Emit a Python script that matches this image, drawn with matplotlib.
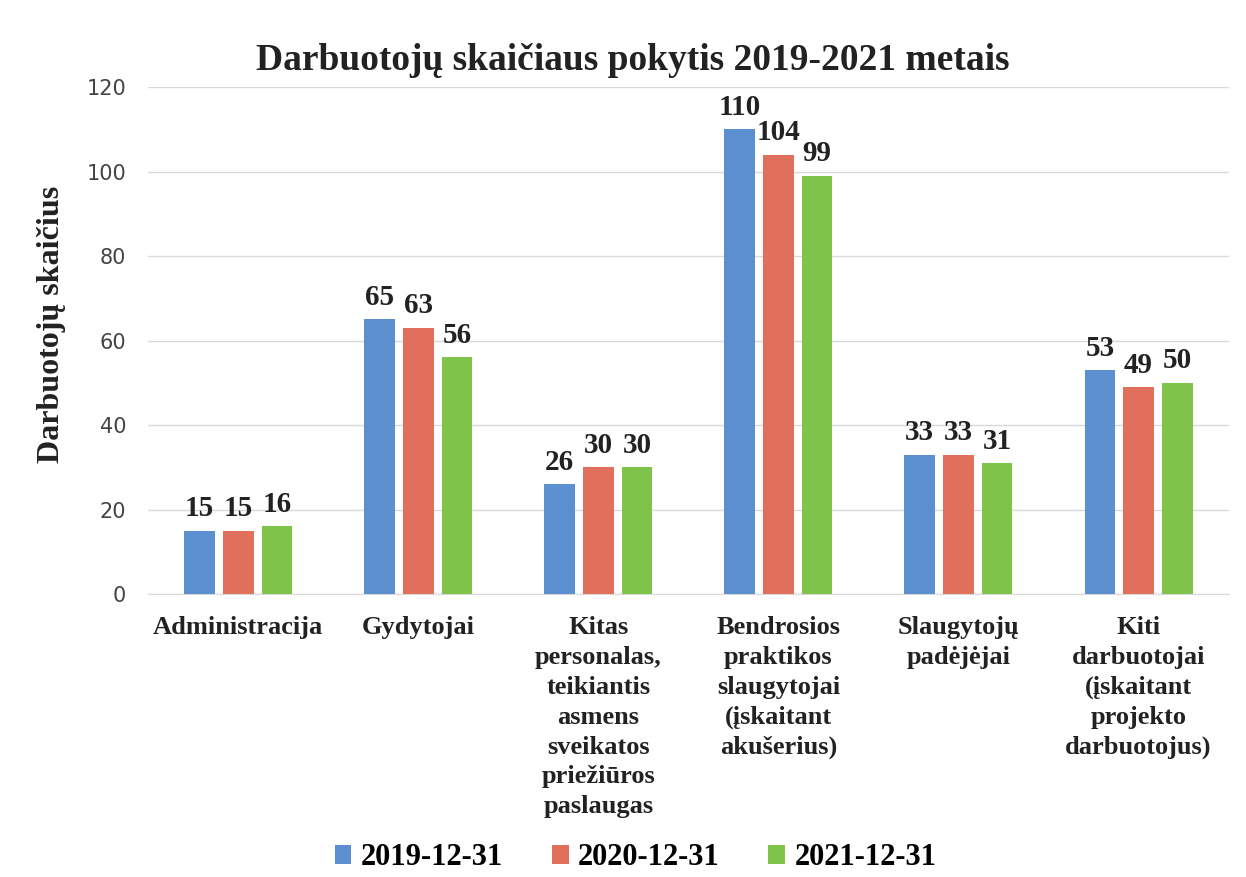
import numpy as np
import matplotlib
matplotlib.use("Agg")
import matplotlib.pyplot as plt

# Data
categories = [
    "Administracija",
    "Gydytojai",
    "Kitas\npersonalas,\nteikiantis\nasmens\nsveikatos\npriežiūros\npaslaugas",
    "Bendrosios\npraktikos\nslaugytojai\n(įskaitant\nakušerius)",
    "Slaugytojų\npadėjėjai",
    "Kiti\ndarbuotojai\n(įskaitant\nprojekto\ndarbuotojus)",
]
series_names = ["2019-12-31", "2020-12-31", "2021-12-31"]
vals_2019 = [15, 65, 26, 110, 33, 53]
vals_2020 = [15, 63, 30, 104, 33, 49]
vals_2021 = [16, 56, 30, 99, 31, 50]
colors = ["#5B8FD0", "#E0705C", "#80C34A"]

serif = "Liberation Serif"

fig = plt.figure(figsize=(12.46, 8.77), dpi=100)
ax = fig.add_axes([0.119, 0.3227, 0.867, 0.578])

x = np.arange(len(categories))
width = 0.17
step = 0.215
for i, (name, vals) in enumerate(zip(series_names, [vals_2019, vals_2020, vals_2021])):
    pos = x + (i - 1) * step
    bars = ax.bar(pos, vals, width, color=colors[i], label=name, zorder=3)
    for b, v in zip(bars, vals):
        ax.text(b.get_x() + b.get_width() / 2, v + 2, str(v), ha="center", va="bottom",
                fontsize=21, fontweight="bold", family=serif, color="#222222")

ax.set_ylim(0, 120)
ax.set_xlim(-0.5, len(categories) - 0.5)
ax.set_yticks(range(0, 121, 20))
ax.yaxis.grid(True, color="#d9d9d9", linewidth=1, zorder=0)
ax.set_axisbelow(True)
for s in ["top", "right", "left"]:
    ax.spines[s].set_visible(False)
ax.spines["bottom"].set_color("#d9d9d9")
ax.tick_params(axis="y", length=0, labelsize=15, labelcolor="#444444", pad=16)
ax.tick_params(axis="x", length=0, pad=16)
ax.set_xticks(x)
ax.set_xticklabels(categories, fontsize=19, fontweight="bold", family=serif,
                   color="#222222", linespacing=1.38, va="top")

ax.set_ylabel("Darbuotojų skaičius", fontsize=23, fontweight="bold", family=serif,
              color="#222222")
ax.yaxis.set_label_coords(-0.076, 0.532)
fig.text(0.508, 0.931, "Darbuotojų skaičiaus pokytis 2019-2021 metais", ha="center",
         va="center", fontsize=27, fontweight="bold", family=serif, color="#222222")

handles, labels = ax.get_legend_handles_labels()
fig.legend(handles, labels, loc="center", bbox_to_anchor=(0.51, 0.022), ncol=3,
           frameon=False, prop={"family": serif, "weight": "bold", "size": 22},
           handlelength=0.55, handleheight=0.55, handletextpad=0.3, columnspacing=1.6)

fig.savefig("out.png", dpi=100, facecolor="white")
